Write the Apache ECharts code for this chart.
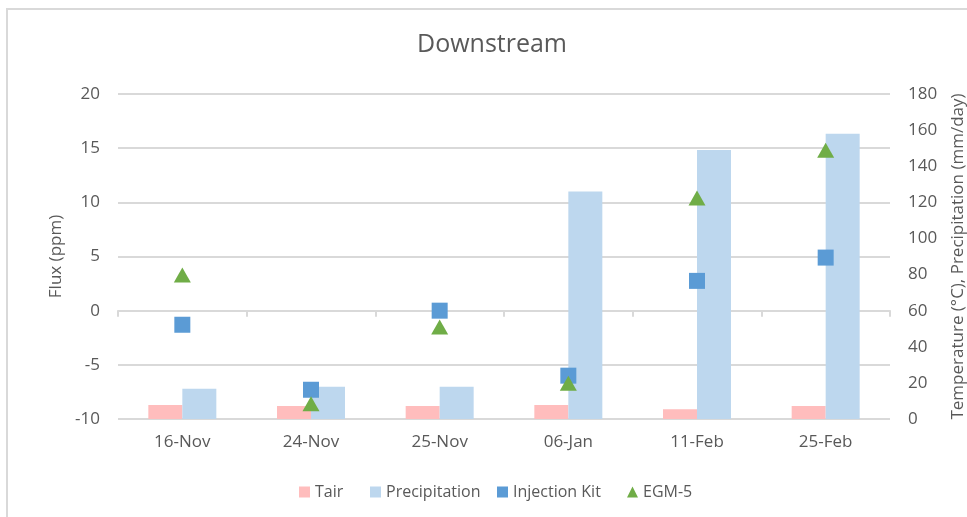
<!DOCTYPE html>
<html>
<head>
<meta charset="utf-8">
<script src="https://cdn.jsdelivr.net/npm/echarts@6/dist/echarts.min.js"></script>
<style>
  html, body { margin: 0; padding: 0; background: #fff; }
  #chart { width: 967px; height: 517px; }
</style>
</head>
<body>
<div id="chart"></div>
<script>
// Sampling dates
const categories = ['16-Nov', '24-Nov', '25-Nov', '06-Jan', '11-Feb', '25-Feb'];

// Right axis: air temperature (°C) and precipitation (mm/day)
const tair = [7.7, 7.2, 7.2, 7.7, 5.4, 7.2];
const precipitation = [16.8, 17.9, 17.9, 126, 149, 158];

// Left axis: flux (ppm) from the two instruments
const injectionKit = [-1.3, -7.3, 0.0, -6.0, 2.75, 4.9];
const egm5 = [3.3, -8.6, -1.5, -6.7, 10.4, 14.8];

const fluxTicks = { min: -10, max: 20, interval: 5 };
const climTicks = { min: 0, max: 180, interval: 20 };

const FONT = '"Open Sans", sans-serif';
const TEXT = '#595959';
const GRID = '#d9d9d9';

// one legend entry per component so each can sit at its own offset
const legendEntries = [
  { name: 'Tair', icon: 'rect', left: 299 },
  { name: 'Precipitation', icon: 'rect', left: 370 },
  { name: 'Injection Kit', icon: 'rect', left: 497 },
  { name: 'EGM-5', icon: 'triangle', left: 627 }
];

const chart = echarts.init(document.getElementById('chart'));

chart.setOption({
  animation: false,
  backgroundColor: '#ffffff',
  textStyle: { fontFamily: FONT },
  graphic: [{
    type: 'rect',
    shape: { x: 7, y: 9, width: 1000, height: 600 },
    style: { fill: 'none', stroke: GRID, lineWidth: 2 },
    silent: true
  }],
  title: {
    text: 'Downstream',
    left: 417,
    top: 32,
    padding: 0,
    textStyle: { fontFamily: FONT, fontSize: 25, fontWeight: 'normal', color: TEXT }
  },
  legend: legendEntries.map(e => ({
    bottom: 17,
    left: e.left,
    padding: 0,
    itemWidth: 11,
    itemHeight: 11,
    itemGap: 0,
    itemStyle: { opacity: 1 },
    textStyle: { fontFamily: FONT, fontSize: 16, color: TEXT },
    data: [{ name: e.name, icon: e.icon }]
  })),
  grid: { left: 118, right: 77, top: 94, bottom: 98, outerBoundsMode: 'none' },
  xAxis: [
    {
      type: 'category',
      data: categories,
      position: 'bottom',
      axisLine: { show: false },
      axisTick: { show: false },
      axisLabel: { color: TEXT, fontSize: 17, margin: 15, fontFamily: FONT }
    },
    {
      // baseline crossing the flux axis at zero, with boundary ticks
      type: 'category',
      data: categories,
      position: 'bottom',
      axisLine: { show: true, onZero: true, onZeroAxisIndex: 0, lineStyle: { color: GRID, width: 2 } },
      axisTick: { show: true, length: 6, lineStyle: { color: GRID, width: 2 } },
      axisLabel: { show: false }
    }
  ],
  yAxis: [
    {
      type: 'value',
      name: 'Flux (ppm)',
      nameLocation: 'middle',
      nameGap: 52,
      nameRotate: 90,
      nameTextStyle: { color: TEXT, fontSize: 17, fontFamily: FONT },
      min: fluxTicks.min,
      max: fluxTicks.max,
      interval: fluxTicks.interval,
      axisLine: { show: false },
      axisTick: { show: false },
      axisLabel: { color: TEXT, fontSize: 17, margin: 18, fontFamily: FONT },
      splitLine: { lineStyle: { color: GRID, width: 2 } }
    },
    {
      type: 'value',
      name: 'Temperature (°C), Precipitation (mm/day)',
      nameLocation: 'middle',
      nameGap: 60,
      nameRotate: 90,
      nameTextStyle: { color: TEXT, fontSize: 17, fontFamily: FONT },
      min: climTicks.min,
      max: climTicks.max,
      interval: climTicks.interval,
      axisLine: { show: false },
      axisTick: { show: false },
      axisLabel: { color: TEXT, fontSize: 17, margin: 18, fontFamily: FONT },
      splitLine: { show: false }
    }
  ],
  series: [
    {
      name: 'Tair',
      type: 'bar',
      yAxisIndex: 1,
      data: tair,
      barWidth: 34,
      barGap: '0%',
      itemStyle: { color: '#FFBDBD' }
    },
    {
      name: 'Precipitation',
      type: 'bar',
      yAxisIndex: 1,
      data: precipitation,
      barWidth: 34,
      barGap: '0%',
      itemStyle: { color: '#BDD7EE' }
    },
    {
      name: 'Injection Kit',
      type: 'scatter',
      yAxisIndex: 0,
      data: injectionKit,
      symbol: 'rect',
      symbolSize: 16,
      itemStyle: { color: '#5B9BD5', opacity: 1 },
      z: 5
    },
    {
      name: 'EGM-5',
      type: 'scatter',
      yAxisIndex: 0,
      data: egm5,
      symbol: 'triangle',
      symbolSize: [17, 15],
      itemStyle: { color: '#70AD47', opacity: 1 },
      z: 6
    }
  ]
});
</script>
</body>
</html>
